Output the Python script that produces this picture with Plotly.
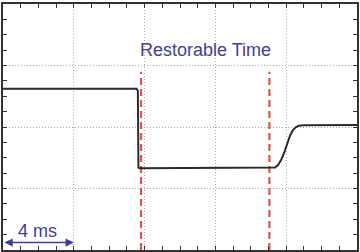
import plotly.graph_objects as go

# Signal trace (time in ms, level in divisions)
time_ms = [0.0, 7.55, 7.62, 7.65, 7.72, 15.25, 15.37, 15.54, 15.71, 15.88, 16.05, 16.21,
           16.38, 16.55, 16.72, 16.95, 20.0]
level   = [2.62, 2.62, 2.59, 1.34, 1.33, 1.333, 1.341, 1.382, 1.463, 1.577, 1.724, 1.854,
           1.951, 2.0, 2.021, 2.029, 2.033]

# Restorable time markers
marker_times = [7.8, 15.05]
marker_top = 2.9

# Scale bar
scale_start, scale_end, scale_y = 0.0, 4.0, 0.12
label_text = "Restorable Time"
scale_text = "4 ms"

x_range = [0, 20]
y_range = [0, 4]

BLUE = "#3d3f95"
RED = "#e05545"
FRAME = "#333333"
GRID = "#a8a8a8"

fig = go.Figure()

# grid carrier trace on secondary axes
fig.add_trace(go.Scatter(x=[None], y=[None], xaxis="x2", yaxis="y2", showlegend=False))

for t in marker_times:
    fig.add_trace(go.Scatter(x=[t, t], y=[y_range[0], marker_top], mode="lines",
                             line=dict(color=RED, width=2.2, dash="7px,4px"),
                             showlegend=False, hoverinfo="skip"))

fig.add_trace(go.Scatter(x=time_ms, y=level, mode="lines",
                         line=dict(color="#2b2b2b", width=2),
                         showlegend=False))

fig.add_annotation(x=(marker_times[0] + marker_times[1]) / 2, y=3.25, text=label_text,
                   showarrow=False, font=dict(family="Liberation Sans, Arial", size=18, color=BLUE),
                   xanchor="center", yanchor="middle")
fig.add_annotation(x=1.95, y=0.31, text=scale_text, showarrow=False,
                   font=dict(family="Liberation Sans, Arial", size=18, color=BLUE),
                   xanchor="center", yanchor="middle")
fig.add_annotation(x=scale_end, y=scale_y, ax=scale_start, ay=scale_y, axref="x", ayref="y",
                   xref="x", yref="y", text="", showarrow=True, arrowhead=2, arrowside="end+start",
                   arrowsize=1.1, arrowwidth=1.5, arrowcolor=BLUE)

axis_common = dict(showticklabels=False, zeroline=False, fixedrange=True)

fig.update_layout(
    width=360, height=252,
    margin=dict(l=3, r=3, t=4, b=2),
    paper_bgcolor="white", plot_bgcolor="white",
    xaxis=dict(range=x_range, dtick=1, tick0=0, ticks="inside", ticklen=4, tickwidth=1.2,
               tickcolor=FRAME, showgrid=False, showline=True, linecolor=FRAME, linewidth=1.5,
               mirror="allticks", **axis_common),
    yaxis=dict(range=y_range, dtick=0.25, tick0=0, ticks="inside", ticklen=4, tickwidth=1.2,
               tickcolor=FRAME, showgrid=False, showline=True, linecolor=FRAME, linewidth=1.5,
               mirror="allticks", **axis_common),
    xaxis2=dict(range=x_range, dtick=4, tick0=0, overlaying="x", showgrid=True, gridcolor=GRID,
                griddash="1px,2px", gridwidth=1, ticks="", showline=False, layer="below traces", **axis_common),
    yaxis2=dict(range=y_range, dtick=1, tick0=0, overlaying="y", showgrid=True, gridcolor=GRID,
                griddash="1px,2px", gridwidth=1, ticks="", showline=False, layer="below traces", **axis_common),
)

fig.write_html("out.html")
